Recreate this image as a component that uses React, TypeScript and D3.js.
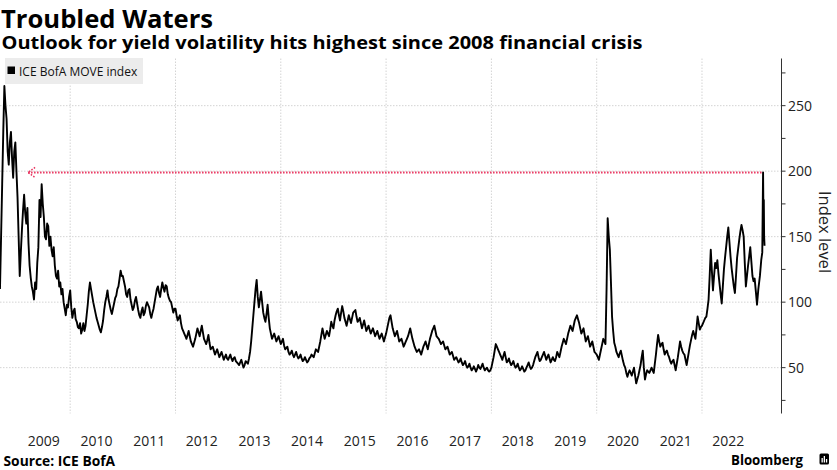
import React from "react";
import * as d3 from "d3";

// ICE BofA MOVE index, weekly readings (index j -> year + j/48)
const v2008 = [110, 150, 190, 230, 265, 250, 240, 215, 205, 222, 230, 210, 195, 215, 222, 200]; // starts at j = 32 (Sep)
const v2009 = [180, 150, 120, 138, 155, 170, 182, 168, 160, 172, 145, 128, 119, 112, 108, 102, 115, 110, 130, 142, 178, 165, 190, 175, 165, 150, 148, 160, 158, 143, 150, 140, 135, 142, 128, 120, 118, 124, 112, 115, 106, 110, 100, 95, 90, 98, 96, 104];
const v2010 = [109, 96, 88, 93, 95, 87, 85, 81, 80, 84, 76, 79, 84, 78, 82, 90, 98, 108, 115, 110, 105, 100, 96, 92, 88, 85, 82, 79, 77, 81, 86, 94, 100, 104, 109, 102, 98, 94, 91, 95, 99, 103, 105, 110, 112, 118, 124, 120];
const v2011 = [120, 116, 112, 106, 104, 109, 110, 102, 98, 94, 96, 101, 104, 99, 94, 90, 88, 93, 96, 90, 92, 97, 100, 98, 96, 91, 88, 92, 95, 100, 105, 110, 112, 107, 104, 110, 115, 111, 108, 113, 112, 106, 103, 101, 100, 96, 92, 95];
const v2012 = [95, 90, 86, 88, 90, 84, 80, 78, 76, 74, 72, 75, 78, 74, 70, 68, 66, 69, 72, 76, 80, 77, 74, 78, 82, 77, 72, 70, 68, 71, 75, 69, 64, 65, 66, 63, 60, 62, 64, 61, 58, 60, 62, 59, 56, 58, 60, 57];
const v2013 = [56, 58, 60, 57, 55, 57, 58, 55, 54, 53, 52, 54, 56, 53, 50, 52, 55, 54, 53, 57, 62, 70, 80, 90, 100, 110, 117, 104, 96, 102, 108, 100, 92, 88, 85, 91, 98, 88, 80, 76, 72, 74, 76, 73, 70, 72, 74, 71];
const v2014 = [68, 70, 72, 67, 64, 65, 66, 62, 60, 61, 63, 60, 58, 60, 62, 59, 57, 58, 60, 57, 55, 56, 58, 56, 54, 55, 57, 58, 60, 59, 58, 61, 64, 63, 62, 66, 70, 75, 80, 76, 72, 75, 78, 76, 74, 79, 85, 82];
const v2015 = [80, 86, 90, 93, 95, 90, 86, 92, 97, 93, 88, 85, 82, 86, 90, 87, 84, 88, 92, 93, 94, 89, 85, 86, 88, 84, 80, 83, 86, 82, 78, 80, 82, 79, 76, 78, 80, 77, 74, 76, 78, 75, 72, 74, 76, 73, 70, 73];
const v2016 = [76, 80, 84, 88, 90, 85, 80, 77, 74, 76, 78, 74, 70, 71, 72, 69, 66, 68, 70, 72, 74, 77, 80, 76, 72, 69, 66, 64, 62, 63, 64, 62, 60, 63, 66, 68, 70, 67, 64, 68, 72, 75, 78, 80, 82, 78, 74, 73];
const v2017 = [72, 70, 68, 69, 70, 67, 64, 65, 66, 63, 60, 61, 62, 59, 56, 57, 58, 56, 54, 55, 57, 54, 52, 53, 55, 52, 50, 51, 53, 50, 48, 49, 51, 49, 47, 49, 52, 50, 49, 51, 53, 50, 48, 49, 50, 48, 47, 48];
const v2018 = [50, 54, 58, 63, 68, 66, 64, 62, 60, 58, 56, 59, 62, 58, 54, 55, 57, 54, 52, 53, 55, 52, 50, 51, 53, 50, 48, 49, 51, 49, 47, 48, 50, 52, 54, 51, 49, 50, 52, 55, 58, 60, 62, 58, 55, 56, 58, 60];
const v2019 = [62, 59, 56, 58, 60, 57, 54, 56, 58, 56, 55, 58, 62, 60, 58, 62, 66, 69, 72, 70, 68, 72, 76, 79, 82, 80, 78, 82, 86, 88, 90, 87, 84, 80, 76, 78, 80, 75, 70, 72, 74, 70, 66, 68, 70, 66, 62, 61];
const v2020 = [60, 58, 56, 60, 64, 68, 72, 70, 68, 110, 164, 150, 140, 115, 89, 78, 69, 66, 62, 60, 58, 61, 63, 59, 55, 52, 50, 46, 43, 46, 48, 46, 44, 47, 50, 44, 38, 41, 44, 48, 52, 58, 63, 50, 41, 45, 48, 47];
const v2021 = [46, 48, 50, 48, 46, 53, 60, 68, 75, 70, 66, 68, 69, 64, 60, 62, 63, 60, 58, 55, 53, 55, 56, 52, 48, 53, 58, 64, 70, 66, 63, 61, 60, 56, 52, 57, 62, 67, 71, 75, 78, 75, 72, 80, 89, 84, 79, 81];
const v2022 = [82, 84, 86, 88, 89, 95, 102, 120, 140, 124, 109, 120, 130, 126, 132, 122, 114, 106, 99, 112, 125, 134, 142, 150, 157, 146, 135, 126, 119, 112, 107, 120, 134, 141, 148, 154, 159, 155, 150, 130, 112, 120, 128, 135, 142, 131, 120, 116];
// 2023 readings at explicit fractional years
const t2023 = [2023.0, 2023.03, 2023.045, 2023.07, 2023.1, 2023.125, 2023.145, 2023.16, 2023.166, 2023.174, 2023.18, 2023.188];
const v2023 = [118, 105, 98, 110, 120, 132, 138, 199, 172, 178, 150, 143];

const yearBlocks: [number, number[], number][] = [
  [2008, v2008, 32], [2009, v2009, 0], [2010, v2010, 0], [2011, v2011, 0], [2012, v2012, 0],
  [2013, v2013, 0], [2014, v2014, 0], [2015, v2015, 0], [2016, v2016, 0], [2017, v2017, 0],
  [2018, v2018, 0], [2019, v2019, 0], [2020, v2020, 0], [2021, v2021, 0], [2022, v2022, 0],
];

const yearLabels = [2009, 2010, 2011, 2012, 2013, 2014, 2015, 2016, 2017, 2018, 2019, 2020, 2021, 2022];
const gridYears = [2010, 2012, 2014, 2016, 2018, 2020, 2022];
const yTicks = [25, 50, 75, 100, 125, 150, 175, 200, 225, 250, 275];
const yLabelTicks = [50, 100, 150, 200, 250];
const peakValue = 199;
const peakYear = 2023.16;
const arrowStartYear = 2009.2;

const title = "Troubled Waters";
const subtitle = "Outlook for yield volatility hits highest since 2008 financial crisis";
const legendLabel = "ICE BofA MOVE index";
const axisTitle = "Index level";
const source = "Source: ICE BofA";

type Pt = { t: number; v: number };

const data: Pt[] = [];
yearBlocks.forEach(([yr, vals, off]) => {
  vals.forEach((v, i) => data.push({ t: yr + (i + off) / 48, v }));
});
t2023.forEach((t, i) => data.push({ t, v: v2023[i] }));

const W = 837;
const H = 470;
const FONT = "'Open Sans', 'Noto Sans', sans-serif";

export default function App() {
  const x = d3.scaleLinear().domain([2008.667, 2023.51]).range([0, 781.5]);
  const y = d3.scaleLinear().domain([15, 286]).range([413.5, 58.5]);
  const axisX = x.range()[1];
  const [yBottom, yTop] = y.range();

  const line = d3
    .line<Pt>()
    .x((d) => x(d.t))
    .y((d) => y(d.v));

  const ay = y(peakValue);
  const ax0 = x(arrowStartYear);
  const ax1 = x(peakYear);

  return (
    <div style={{ position: "absolute", left: 0, top: 0 }}>
      <svg width={W} height={H} style={{ display: "block", background: "#fff" }} fontFamily={FONT}>
        <text x={1} y={27.5} fontSize={25.5} fontWeight={700} fill="#000" textLength={212} lengthAdjust="spacingAndGlyphs">
          {title}
        </text>
        <text x={1.5} y={48.5} fontSize={17} fontWeight={700} fill="#000" textLength={641} lengthAdjust="spacingAndGlyphs">
          {subtitle}
        </text>

        {/* gridlines */}
        {yLabelTicks.map((t) => (
          <line key={"h" + t} x1={0} x2={axisX} y1={y(t)} y2={y(t)} stroke="#d4d4d4" strokeWidth={1} strokeDasharray="1.5,1.5" />
        ))}
        {gridYears.map((g) => (
          <line key={"v" + g} x1={x(g)} x2={x(g)} y1={yTop} y2={yBottom} stroke="#d4d4d4" strokeWidth={1} strokeDasharray="1.5,1.5" />
        ))}

        {/* series */}
        <path d={line(data) || ""} fill="none" stroke="#000" strokeWidth={1.9} strokeLinejoin="round" />

        {/* dotted arrow */}
        <line x1={ax0} x2={ax1} y1={ay} y2={ay} stroke="#e8335e" strokeWidth={2} strokeDasharray="1.5,1.5" />
        <polyline
          points={`${ax0 + 7},${ay - 5} ${ax0},${ay} ${ax0 + 7},${ay + 5}`}
          fill="none"
          stroke="#e8335e"
          strokeWidth={1.5}
          strokeDasharray="1.5,1.5"
        />

        {/* legend */}
        <rect x={5} y={58} width={138} height={26} fill="#ececec" />
        <rect x={7.5} y={66.5} width={7.5} height={7.5} fill="#000" />
        <text x={19} y={75.5} fontSize={12} fill="#111">
          {legendLabel}
        </text>

        {/* right axis */}
        <line x1={axisX} x2={axisX} y1={yTop} y2={yBottom} stroke="#333" strokeWidth={1} />
        {yTicks.map((t) => (
          <line key={"t" + t} x1={axisX} x2={axisX + 4} y1={y(t)} y2={y(t)} stroke="#333" strokeWidth={1} />
        ))}
        {yLabelTicks.map((t) => (
          <text key={"l" + t} x={axisX + 6.5} y={y(t)} dy="0.35em" fontSize={14} fill="#222">
            {t}
          </text>
        ))}
        <text
          transform={`translate(825,${(yTop + yBottom) / 2 - 4}) rotate(90)`}
          textAnchor="middle"
          dy="0.35em"
          fontSize={16.5}
          fill="#222"
        >
          {axisTitle}
        </text>

        {/* x labels */}
        {yearLabels.map((yr) => (
          <text key={"x" + yr} x={x(yr + 0.5)} y={446} textAnchor="middle" fontSize={14} fill="#222">
            {yr}
          </text>
        ))}

        {/* footer */}
        <text x={3.5} y={466} fontSize={13.8} fontWeight={700} fill="#000">
          {source}
        </text>
        <text x={731} y={465} fontSize={14.5} fontWeight={700} fill="#000" textLength={72} lengthAdjust="spacingAndGlyphs">
          Bloomberg
        </text>
        <rect x={819.5} y={453.5} width={9.5} height={11} rx={1.5} fill="#000" />
        <rect x={821.5} y={458} width={1.3} height={4.5} fill="#fff" />
        <rect x={823.7} y={456} width={1.3} height={6.5} fill="#fff" />
        <rect x={825.9} y={459} width={1.3} height={3.5} fill="#fff" />
      </svg>
    </div>
  );
}
